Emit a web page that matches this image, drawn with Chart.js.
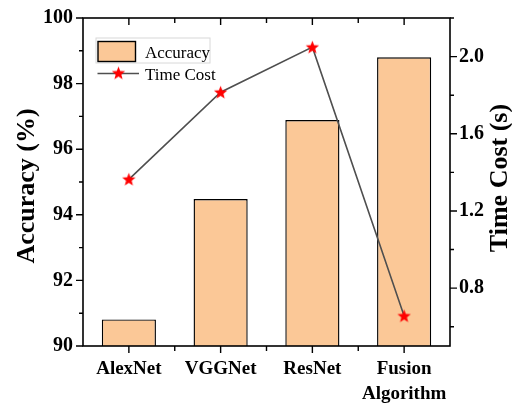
<!DOCTYPE html>
<html>
<head>
<meta charset="utf-8">
<script src="https://cdn.jsdelivr.net/npm/chart.js@4/dist/chart.umd.min.js"></script>
<style>
  html, body { margin: 0; padding: 0; background: #fff; }
  #wrap { width: 512px; height: 406px; position: relative; }
</style>
</head>
<body>
<div id="wrap"><canvas id="chart" width="512" height="406"></canvas></div>
<script>
const categories = ['AlexNet', 'VGGNet', 'ResNet', ['Fusion', 'Algorithm']];
const accuracy = [90.81, 94.48, 96.89, 98.8];
const timeCost = [1.364, 1.815, 2.049, 0.656];
const accTicks = [90, 92, 94, 96, 98, 100];
const timeTicks = [0.8, 1.2, 1.6, 2.0];

const SERIF = '"Liberation Serif", "Times New Roman", serif';
const BAR_FILL = '#FBC897';
const LINE_COLOR = '#4F4F4F';

// filled red star used as point marker
function makeStar(size) {
    const c = document.createElement('canvas');
    c.width = size; c.height = size;
    const g = c.getContext('2d');
    const cx = size / 2, cy = size / 2 + 0.5;
    const ro = size / 2 - 0.5, ri = ro * 0.42;
    g.beginPath();
    for (let i = 0; i < 10; i++) {
        const r = i % 2 === 0 ? ro : ri;
        const a = -Math.PI / 2 + i * Math.PI / 5;
        const x = cx + r * Math.cos(a), y = cy + r * Math.sin(a);
        if (i === 0) g.moveTo(x, y); else g.lineTo(x, y);
    }
    g.closePath();
    g.fillStyle = '#FF0000';
    g.fill();
    return c;
}
const star = makeStar(15);

const framePlugin = {
    id: 'frame',
    afterDatasetsDraw(chart) {
        const ctx = chart.ctx;
        const a = chart.chartArea;
        const x = chart.scales.x, y = chart.scales.y, y1 = chart.scales.y1;
        ctx.save();
        ctx.strokeStyle = '#000';
        ctx.lineWidth = 1.6;
        ctx.strokeRect(a.left, a.top, a.right - a.left, a.bottom - a.top);

        ctx.lineWidth = 1.4;
        ctx.beginPath();
        // x ticks: major at categories, minor between
        for (let i = 0; i < categories.length; i++) {
            const px = x.getPixelForValue(i);
            ctx.moveTo(px, a.bottom); ctx.lineTo(px, a.bottom + 7);
            ctx.moveTo(px, a.top); ctx.lineTo(px, a.top + 7);
            if (i < categories.length - 1) {
                const mx = (px + x.getPixelForValue(i + 1)) / 2;
                ctx.moveTo(mx, a.bottom); ctx.lineTo(mx, a.bottom + 5);
                ctx.moveTo(mx, a.top); ctx.lineTo(mx, a.top + 5);
            }
        }
        // left axis
        for (let v = 90; v <= 100; v += 1) {
            const py = y.getPixelForValue(v);
            const len = v % 2 === 0 ? 7 : 4;
            ctx.moveTo(a.left, py); ctx.lineTo(a.left - len, py);
        }
        // right axis
        for (let k = 6; k <= 22; k += 2) {
            const py = y1.getPixelForValue(k / 10);
            const len = k % 4 === 0 ? 7 : 4;
            ctx.moveTo(a.right, py); ctx.lineTo(a.right + len, py);
        }
        ctx.stroke();

        // axis titles
        ctx.fillStyle = '#000';
        ctx.font = 'bold 26px ' + SERIF;
        ctx.textAlign = 'center';
        ctx.textBaseline = 'middle';
        ctx.save();
        ctx.translate(27, 186);
        ctx.rotate(-Math.PI / 2);
        ctx.fillText('Accuracy (%)', 0, 0);
        ctx.restore();
        ctx.save();
        ctx.translate(500, 178);
        ctx.rotate(-Math.PI / 2);
        ctx.fillText('Time Cost (s)', 0, 0);
        ctx.restore();

        // legend
        ctx.strokeStyle = '#D8D8D8';
        ctx.lineWidth = 1;
        ctx.strokeRect(96, 38, 114, 25);
        ctx.fillStyle = BAR_FILL;
        ctx.fillRect(98, 41.5, 37.5, 20);
        ctx.strokeStyle = '#000';
        ctx.lineWidth = 1.4;
        ctx.strokeRect(98, 41.5, 37.5, 20);
        ctx.strokeStyle = LINE_COLOR;
        ctx.lineWidth = 1.6;
        ctx.beginPath();
        ctx.moveTo(97.5, 73.5); ctx.lineTo(139, 73.5);
        ctx.stroke();
        ctx.drawImage(star, 118.5 - 7.5, 73.5 - 8);
        ctx.fillStyle = '#000';
        ctx.font = '17px ' + SERIF;
        ctx.textAlign = 'left';
        ctx.textBaseline = 'alphabetic';
        ctx.fillText('Accuracy', 145, 57.5);
        ctx.fillText('Time Cost', 145, 80);
        ctx.restore();
    }
};

new Chart(document.getElementById('chart'), {
    data: {
        labels: categories,
        datasets: [
            {
                type: 'line',
                label: 'Time Cost',
                data: timeCost,
                yAxisID: 'y1',
                borderColor: LINE_COLOR,
                borderWidth: 1.6,
                pointStyle: star,
                pointRadius: 7,
                tension: 0,
                order: 0
            },
            {
                type: 'bar',
                label: 'Accuracy',
                data: accuracy,
                yAxisID: 'y',
                backgroundColor: BAR_FILL,
                borderColor: '#000',
                borderWidth: 1.4,
                borderSkipped: false,
                categoryPercentage: 1,
                barPercentage: 0.59,
                order: 1
            }
        ]
    },
    options: {
        responsive: false,
        animation: false,
        layout: { padding: { top: 18, left: 0, right: 0, bottom: 0 } },
        plugins: {
            legend: { display: false },
            tooltip: { enabled: false }
        },
        scales: {
            x: {
                offset: true,
                grid: { display: false, tickLength: 7 },
                border: { display: false },
                afterFit: s => { s.height = 60; },
                ticks: {
                    color: '#000',
                    padding: 3,
                    maxRotation: 0,
                    font: { family: SERIF, size: 19, weight: 'bold', lineHeight: 1.35 }
                }
            },
            y: {
                position: 'left',
                min: 90, max: 100,
                grid: { display: false, tickLength: 7 },
                border: { display: false },
                afterFit: s => { s.width = 83; },
                afterBuildTicks: s => { s.ticks = accTicks.map(v => ({ value: v })); },
                ticks: {
                    color: '#000',
                    padding: 3,
                    font: { family: SERIF, size: 20, weight: 'bold' }
                }
            },
            y1: {
                position: 'right',
                min: 0.5, max: 2.2,
                grid: { display: false, tickLength: 7 },
                border: { display: false },
                afterFit: s => { s.width = 62; },
                afterBuildTicks: s => { s.ticks = timeTicks.map(v => ({ value: v })); },
                ticks: {
                    color: '#000',
                    padding: 2,
                    font: { family: SERIF, size: 20, weight: 'bold' },
                    callback: v => Number(v).toFixed(1)
                }
            }
        }
    },
    plugins: [framePlugin]
});
</script>
</body>
</html>
